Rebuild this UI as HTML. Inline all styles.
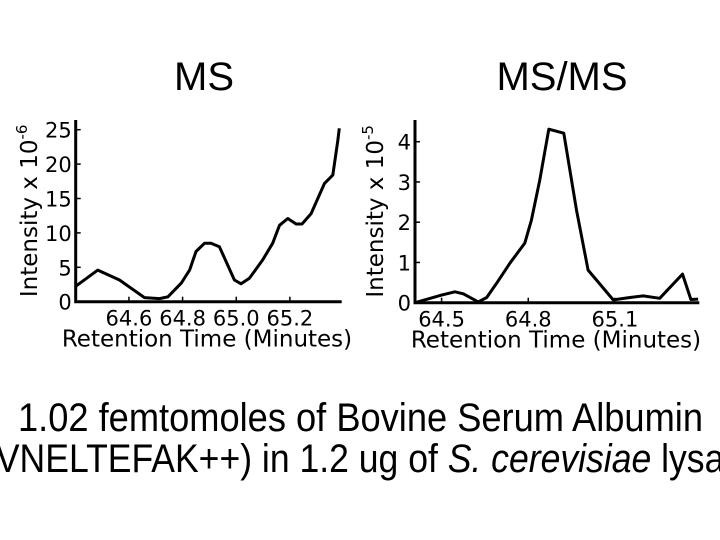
<!DOCTYPE html>
<html><head><meta charset="utf-8"><style>
html,body{margin:0;padding:0;background:#fff;width:720px;height:540px;overflow:hidden}
svg{display:block}
.tk{font-family:"DejaVu Sans",sans-serif;font-size:21px;fill:#000}
.al{font-family:"DejaVu Sans",sans-serif;font-size:23px;fill:#000}
.tt{font-family:"Liberation Sans",sans-serif;font-size:40px;fill:#000}
</style></head><body>
<svg id="svg" width="720" height="540" viewBox="0 0 720 540" xmlns="http://www.w3.org/2000/svg">
<text class="tt" x="204" y="90" text-anchor="middle">MS</text>
<text class="tt" x="562" y="90" text-anchor="middle">MS/MS</text>
<text class="tt" x="18" y="431" textLength="685" lengthAdjust="spacingAndGlyphs">1.02 femtomoles of Bovine Serum Albumin</text>
<text class="tt" x="-16" y="472" textLength="770" lengthAdjust="spacingAndGlyphs">(VNELTEFAK++) in 1.2 ug of <tspan font-style="italic">S. cerevisiae</tspan> lysate</text>
<g id="left"></g>
<g id="right"></g>
</svg>
<script>
const msTimes=[64.40,64.484,64.565,64.658,64.714,64.745,64.795,64.826,64.85,64.882,64.906,64.937,64.993,65.018,65.049,65.099,65.136,65.161,65.192,65.223,65.245,65.279,65.329,65.36,65.378,65.384];
const msValues=[2.2,4.6,3.15,0.6,0.45,0.7,2.7,4.6,7.3,8.5,8.5,8.0,3.15,2.6,3.4,6.1,8.5,11.1,12.1,11.3,11.3,12.8,17.2,18.4,23.3,25.2];
const msXTicks=[64.6,64.8,65.0,65.2];
const msXTickLabels=["64.6","64.8","65.0","65.2"];
const msYTicks=[0,5,10,15,20,25];
const msmsTimes=[64.408,64.5,64.546,64.575,64.627,64.656,64.69,64.736,64.788,64.811,64.84,64.871,64.923,64.967,65.007,65.094,65.152,65.198,65.255,65.334,65.363,65.388];
const msmsValues=[0,0.19,0.27,0.22,0.02,0.13,0.48,0.98,1.48,2.05,3.05,4.31,4.21,2.3,0.81,0.07,0.13,0.17,0.11,0.71,0.08,0.09];
const msmsXTicks=[64.5,64.8,65.1];
const msmsXTickLabels=["64.5","64.8","65.1"];
const msmsYTicks=[0,1,2,3,4];

const NS="http://www.w3.org/2000/svg";
function mk(parent,tag,attrs,txt){const e=document.createElementNS(NS,tag);for(const k in attrs)e.setAttribute(k,attrs[k]);if(txt!==undefined)e.textContent=txt;parent.appendChild(e);return e;}

function chart(g,cfg){
  const sx=t=>cfg.x0+(t-cfg.tmin)/(cfg.tmax-cfg.tmin)*(cfg.x1-cfg.x0);
  const sy=v=>cfg.y0-(v-cfg.vmin)/(cfg.vmax-cfg.vmin)*(cfg.y0-cfg.y1);
  const ax=mk(g,'path',{d:`M${cfg.x0},${cfg.ytop}V${cfg.y0}H${cfg.x1}`,fill:'none',stroke:'#000','stroke-width':3});
  
  
  cfg.yt.forEach(v=>{
    const t=mk(g,'text',{class:'tk',x:cfg.x0-4,y:sy(v)+8,'text-anchor':'end'},String(v));
    
    
    const l=mk(g,'line',{x1:cfg.x0,x2:cfg.x0+5,y1:sy(v),y2:sy(v),stroke:'#000','stroke-width':1.5});
    
    
  });
  cfg.xt.forEach((v,i)=>{
    const t=mk(g,'text',{class:'tk',x:sx(v),y:cfg.y0+24,'text-anchor':'middle'},cfg.xl[i]);
    
    
    const l=mk(g,'line',{x1:sx(v),x2:sx(v),y1:cfg.y0,y2:cfg.y0-5,stroke:'#000','stroke-width':1.5});
    
    
  });
  const xl=mk(g,'text',{class:'al',x:cfg.xlx,y:cfg.y0+45,'text-anchor':'middle'},'Retention Time (Minutes)');
  
  
  const yl=mk(g,'text',{class:'al',transform:`translate(${cfg.ylx},${(cfg.ytop+cfg.y0)/2}) rotate(-90)`,'text-anchor':'middle'});
  
  
  yl.appendChild(document.createTextNode('Intensity x 10'));
  mk(yl,'tspan',{dy:-10,'font-size':15},cfg.exp);
  const d=cfg.t.map((t,i)=>(i?'L':'M')+sx(t).toFixed(1)+','+sy(cfg.v[i]).toFixed(1)).join('');
  const p=mk(g,'path',{d:d,fill:'none',stroke:'#000','stroke-width':3,'stroke-linejoin':'round'});
  
  
}
chart(document.getElementById('left'),{x0:75.7,x1:341.7,tmin:64.4016,tmax:65.393,y0:301.7,y1:129.7,vmin:0,vmax:25,ytop:120,t:msTimes,v:msValues,xt:msXTicks,xl:msXTickLabels,yt:msYTicks,xlx:207,ylx:37,exp:'-6'});
chart(document.getElementById('right'),{x0:415,x1:699.3,tmin:64.408,tmax:65.392,y0:302.7,y1:141.7,vmin:0,vmax:4,ytop:120,t:msmsTimes,v:msmsValues,xt:msmsXTicks,xl:msmsXTickLabels,yt:msmsYTicks,xlx:556,ylx:383,exp:'-5'});
</script>
</body></html>
